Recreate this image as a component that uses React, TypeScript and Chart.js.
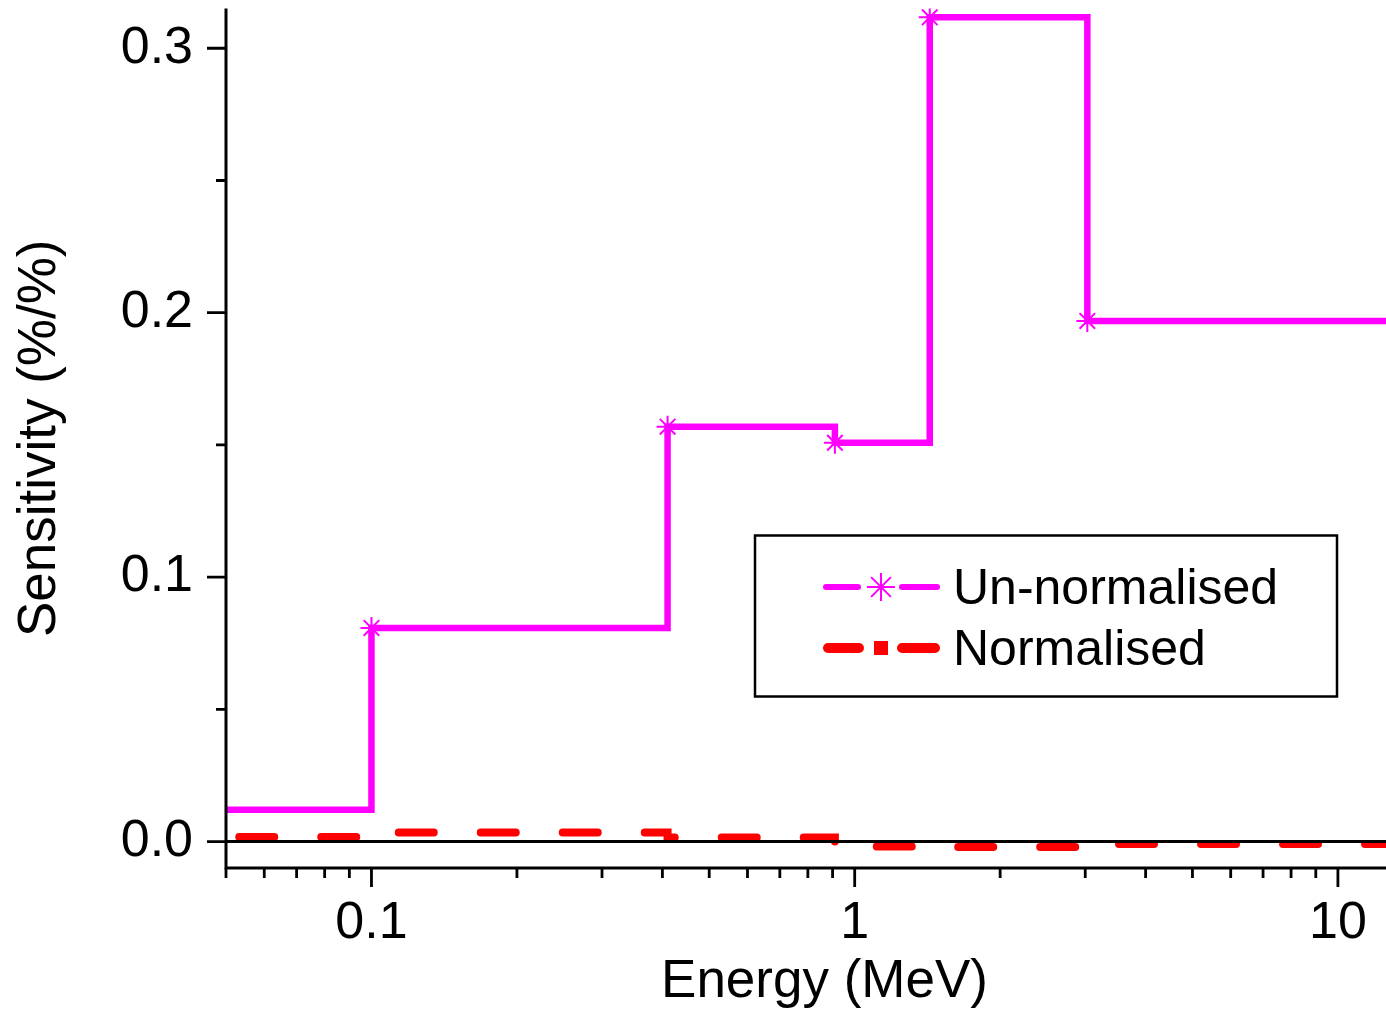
import React, { useEffect, useRef } from 'react';
import { Chart, registerables } from 'chart.js';

Chart.register(...registerables);

// ---- data ----
const energyMeV = [0.01, 0.1, 0.41, 0.91, 1.43, 3.03, 20];
const unNormalised = [0.012, 0.0808, 0.1569, 0.1508, 0.3117, 0.1969, 0.1969];
const normalised = [0.0017, 0.0034, 0.0015, -0.0019, -0.0021, -0.0009, -0.0009];
const markerVisible = [false, true, true, true, true, true, false];
const seriesNames = ['Un-normalised', 'Normalised'];
const xMajorTicks = [0.1, 1, 10];
const xMinorTicks = [0.05, 0.06, 0.07, 0.08, 0.09, 0.2, 0.3, 0.4, 0.5, 0.6, 0.7, 0.8, 0.9, 2, 3, 4, 5, 6, 7, 8, 9];
const yMajorTicks = [0, 0.1, 0.2, 0.3];
const yMinorTicks = [0.05, 0.15, 0.25];
const xTitle = 'Energy (MeV)';
const yTitle = 'Sensitivity (%/%)';

const FONT = "'Liberation Sans', Arial, Helvetica, sans-serif";
const MAGENTA = '#FF00FF';
const RED = '#FF0000';

const axesPlugin = {
  id: 'originAxes',
  afterDatasetsDraw(chart: any) {
    const { ctx, chartArea: a, scales } = chart;
    const x = scales.x;
    const y = scales.y;
    ctx.save();
    ctx.strokeStyle = '#000';
    ctx.lineCap = 'butt';
    ctx.lineWidth = 3;
    const y0 = y.getPixelForValue(0);
    ctx.beginPath();
    ctx.moveTo(a.left, y0);
    ctx.lineTo(a.right, y0);
    ctx.stroke();
    ctx.beginPath();
    ctx.moveTo(a.left, a.top);
    ctx.lineTo(a.left, a.bottom + 1.5);
    ctx.moveTo(a.left - 1.5, a.bottom);
    ctx.lineTo(a.right, a.bottom);
    ctx.stroke();
    ctx.lineWidth = 2.8;
    ctx.beginPath();
    for (const v of yMajorTicks) {
      const p = y.getPixelForValue(v);
      ctx.moveTo(a.left - 19, p);
      ctx.lineTo(a.left, p);
    }
    for (const v of yMinorTicks) {
      const p = y.getPixelForValue(v);
      ctx.moveTo(a.left - 10, p);
      ctx.lineTo(a.left, p);
    }
    for (const v of xMajorTicks) {
      const p = x.getPixelForValue(v);
      ctx.moveTo(p, a.bottom);
      ctx.lineTo(p, a.bottom + 19);
    }
    for (const v of xMinorTicks) {
      const p = x.getPixelForValue(v);
      ctx.moveTo(p, a.bottom);
      ctx.lineTo(p, a.bottom + 10);
    }
    ctx.stroke();
    ctx.restore();
  },
};

const legendPlugin = {
  id: 'boxLegend',
  afterDraw(chart: any) {
    const { ctx } = chart;
    const ds = chart.data.datasets;
    ctx.save();
    ctx.strokeStyle = '#000';
    ctx.lineWidth = 2.5;
    ctx.strokeRect(755, 535.5, 582, 161);

    // entry 1: magenta line with star
    const y1 = 587;
    ctx.strokeStyle = ds[0].borderColor;
    ctx.lineCap = 'round';
    ctx.lineWidth = 6;
    ctx.beginPath();
    ctx.moveTo(826, y1);
    ctx.lineTo(858, y1);
    ctx.moveTo(902, y1);
    ctx.lineTo(937, y1);
    ctx.stroke();
    ctx.lineWidth = 2;
    ctx.lineCap = 'butt';
    const r = 14;
    const cx = 881;
    ctx.beginPath();
    ctx.moveTo(cx, y1 - r);
    ctx.lineTo(cx, y1 + r);
    ctx.moveTo(cx - r, y1);
    ctx.lineTo(cx + r, y1);
    const d = r * Math.SQRT1_2;
    ctx.moveTo(cx - d, y1 - d);
    ctx.lineTo(cx + d, y1 + d);
    ctx.moveTo(cx - d, y1 + d);
    ctx.lineTo(cx + d, y1 - d);
    ctx.stroke();

    // entry 2: red dash-dot
    const y2 = 648;
    ctx.strokeStyle = ds[1].borderColor;
    ctx.fillStyle = ds[1].borderColor;
    ctx.lineCap = 'round';
    ctx.lineWidth = 10;
    ctx.beginPath();
    ctx.moveTo(828, y2);
    ctx.lineTo(859, y2);
    ctx.moveTo(902, y2);
    ctx.lineTo(935, y2);
    ctx.stroke();
    ctx.fillRect(874, y2 - 7, 14, 14);

    ctx.fillStyle = '#000';
    ctx.font = `50px ${FONT}`;
    ctx.textAlign = 'left';
    ctx.textBaseline = 'alphabetic';
    ctx.fillText(ds[0].label, 953, 604);
    ctx.fillText(ds[1].label, 953, 665);
    ctx.restore();
  },
};

export default function App() {
  const ref = useRef<HTMLCanvasElement>(null);

  useEffect(() => {
    if (!ref.current) return;
    const unData = energyMeV.map((e, i) => ({ x: e, y: unNormalised[i] }));
    const nData = energyMeV.map((e, i) => ({ x: e, y: normalised[i] }));
    const chart = new Chart(ref.current, {
      type: 'line',
      data: {
        datasets: [
          {
            label: seriesNames[0],
            data: unData,
            stepped: 'before',
            borderColor: MAGENTA,
            borderWidth: 6.5,
            borderJoinStyle: 'miter',
            pointStyle: 'star',
            pointRadius: markerVisible.map((m) => (m ? 11 : 0)),
            pointBorderColor: MAGENTA,
            pointBorderWidth: 2,
            pointBackgroundColor: MAGENTA,
            fill: false,
          },
          {
            label: seriesNames[1],
            data: nData,
            stepped: 'before',
            borderColor: RED,
            borderWidth: 8,
            borderDash: [35, 47],
            borderDashOffset: 59,
            borderCapStyle: 'round',
            pointRadius: 0,
            fill: false,
          },
        ],
      } as any,
      options: {
        animation: false,
        responsive: false,
        devicePixelRatio: 1,
        layout: { padding: { top: 8.6, left: 0, right: 0, bottom: 0 } },
        plugins: { legend: { display: false }, tooltip: { enabled: false } },
        scales: {
          x: {
            type: 'logarithmic',
            min: 0.05,
            max: 15,
            grid: { display: false, drawTicks: false },
            border: { display: false },
            afterBuildTicks: (s: any) => {
              s.ticks = [...xMinorTicks, ...xMajorTicks].sort((p, q) => p - q).map((v) => ({ value: v }));
            },
            afterFit: (s: any) => {
              s.height = 142;
              s.paddingLeft = 0;
              s.paddingRight = 0;
            },
            ticks: {
              autoSkip: false,
              maxRotation: 0,
              minRotation: 0,
              padding: 24,
              color: '#000',
              font: { family: FONT, size: 52 },
              callback: (v: any) => (xMajorTicks.includes(Number(v)) ? String(v) : ''),
            },
            title: {
              display: true,
              text: xTitle,
              color: '#000',
              font: { family: FONT, size: 53, lineHeight: 1.2 },
              padding: { top: 0, bottom: -4 },
            },
          },
          y: {
            type: 'linear',
            min: -0.01,
            max: 0.315,
            grid: { display: false, drawTicks: false },
            border: { display: false },
            afterBuildTicks: (s: any) => {
              s.ticks = [...yMajorTicks, ...yMinorTicks].sort((p, q) => p - q).map((v) => ({ value: v }));
            },
            afterFit: (s: any) => {
              s.width = 226;
              s.paddingTop = 0;
              s.paddingBottom = 0;
            },
            ticks: {
              autoSkip: false,
              padding: 33,
              color: '#000',
              font: { family: FONT, size: 52 },
              callback: (v: any) => (yMajorTicks.includes(Number(v)) ? Number(v).toFixed(1) : ''),
            },
            title: {
              display: true,
              text: yTitle,
              color: '#000',
              font: { family: FONT, size: 53, lineHeight: 1.2 },
              padding: { top: 9, bottom: 0 },
            },
          },
        },
      } as any,
      plugins: [axesPlugin, legendPlugin],
    });
    return () => chart.destroy();
  }, []);

  return (
    <div
      style={{
        position: 'fixed',
        left: 0,
        top: 0,
        width: 1386,
        height: 1010,
        overflow: 'hidden',
        background: '#fff',
      }}
    >
      <canvas ref={ref} width={1423} height={1010} style={{ display: 'block' }} />
    </div>
  );
}
